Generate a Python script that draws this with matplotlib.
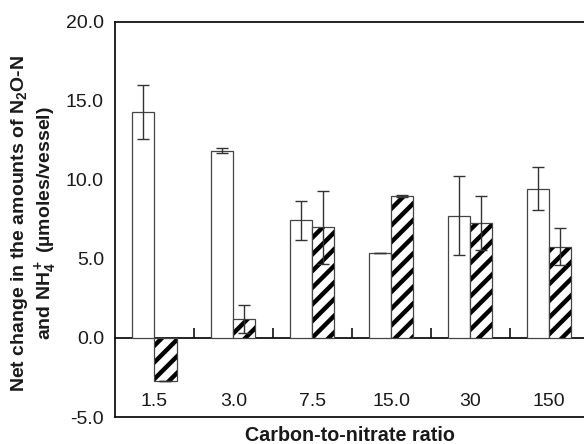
import matplotlib
matplotlib.use("Agg")
import matplotlib.pyplot as plt
import numpy as np

categories = ["1.5", "3.0", "7.5", "15.0", "30", "150"]
n2o_values = [14.3, 11.85, 7.45, 5.4, 7.75, 9.45]
n2o_errors = [1.7, 0.15, 1.22, 0.0, 2.48, 1.35]
nh4_values = [-2.75, 1.2, 7.0, 8.99, 7.3, 5.78]
nh4_errors = [0.0, 0.87, 2.33, 0.08, 1.71, 1.19]
yticks = [-5.0, 0.0, 5.0, 10.0, 15.0, 20.0]
ytick_labels = ["-5.0", "0.0", "5.0", "10.0", "15.0", "20.0"]

plt.rcParams["font.family"] = ["Liberation Sans", "DejaVu Sans"]
plt.rcParams["mathtext.fontset"] = "custom"
plt.rcParams["mathtext.rm"] = "Liberation Sans:bold"
plt.rcParams["mathtext.it"] = "Liberation Sans:bold"
plt.rcParams["mathtext.bf"] = "Liberation Sans:bold"
plt.rcParams["mathtext.default"] = "rm"
plt.rcParams["hatch.linewidth"] = 3.2
plt.rcParams["hatch.color"] = "black"

fig = plt.figure(figsize=(5.84, 4.44), dpi=100)
ax = fig.add_axes([0.1969, 0.0608, 0.8108, 0.8897])

x = np.arange(len(categories))
w = 0.28
txt = "#1a1a1a"

ax.bar(x - w / 2, n2o_values, width=w, color="white", edgecolor="#444444", linewidth=0.9, zorder=2)
# hatched fill (black stripes) then gray outline
ax.bar(x + w / 2, nh4_values, width=w, color="white", edgecolor="black", linewidth=0,
       hatch="//", zorder=2)
ax.bar(x + w / 2, nh4_values, width=w, fill=False, edgecolor="#444444", linewidth=0.9, zorder=2.1)
ax.errorbar(x - w / 2, n2o_values, yerr=n2o_errors, fmt="none", ecolor="#333333",
            elinewidth=1.0, capsize=4.6, capthick=1.0, zorder=3)
ax.errorbar(x + w / 2, nh4_values, yerr=nh4_errors, fmt="none", ecolor="#333333",
            elinewidth=1.0, capsize=4.6, capthick=1.0, zorder=3)

ymin, ymax = -5.0, 20.0
ax.set_xlim(-0.5, len(categories) - 0.5)
ax.set_ylim(ymin, ymax)
ax.set_yticks(yticks)
ax.set_yticklabels(ytick_labels)
ax.tick_params(axis="y", length=0, pad=8, labelsize=14, labelcolor=txt)
ax.set_xticks([])

for s in ["top", "left", "bottom"]:
    ax.spines[s].set_linewidth(1.3)
    ax.spines[s].set_color("#111111")
ax.spines["right"].set_visible(False)

# zero line with separator ticks
sec = ax.secondary_xaxis((0 - ymin) / (ymax - ymin))
sec.set_xticks(x[:-1] + 0.5)
sec.tick_params(direction="in", length=7.5, width=1.2, color="#111111", labelbottom=False)
sec.spines["bottom"].set_linewidth(1.3)
sec.spines["bottom"].set_color("#111111")

for xi, c in zip(x, categories):
    ax.text(xi, -4.05, c, ha="center", va="center", fontsize=14, color=txt)

fig.text(350 / 584, 1 - 441 / 444, "Carbon-to-nitrate ratio", ha="center", va="baseline",
         fontsize=14.2, fontweight="bold", color=txt)

fig.text(34 / 584, 1 - 223 / 444,
         "Net change in the amounts of N$_2$O-N\nand NH$_4^+$ (\u00b5moles/vessel)",
         rotation=90, ha="center", va="center", multialignment="center",
         fontsize=14, fontweight="bold", color=txt, linespacing=1.15)

fig.savefig("out.png", dpi=100)
